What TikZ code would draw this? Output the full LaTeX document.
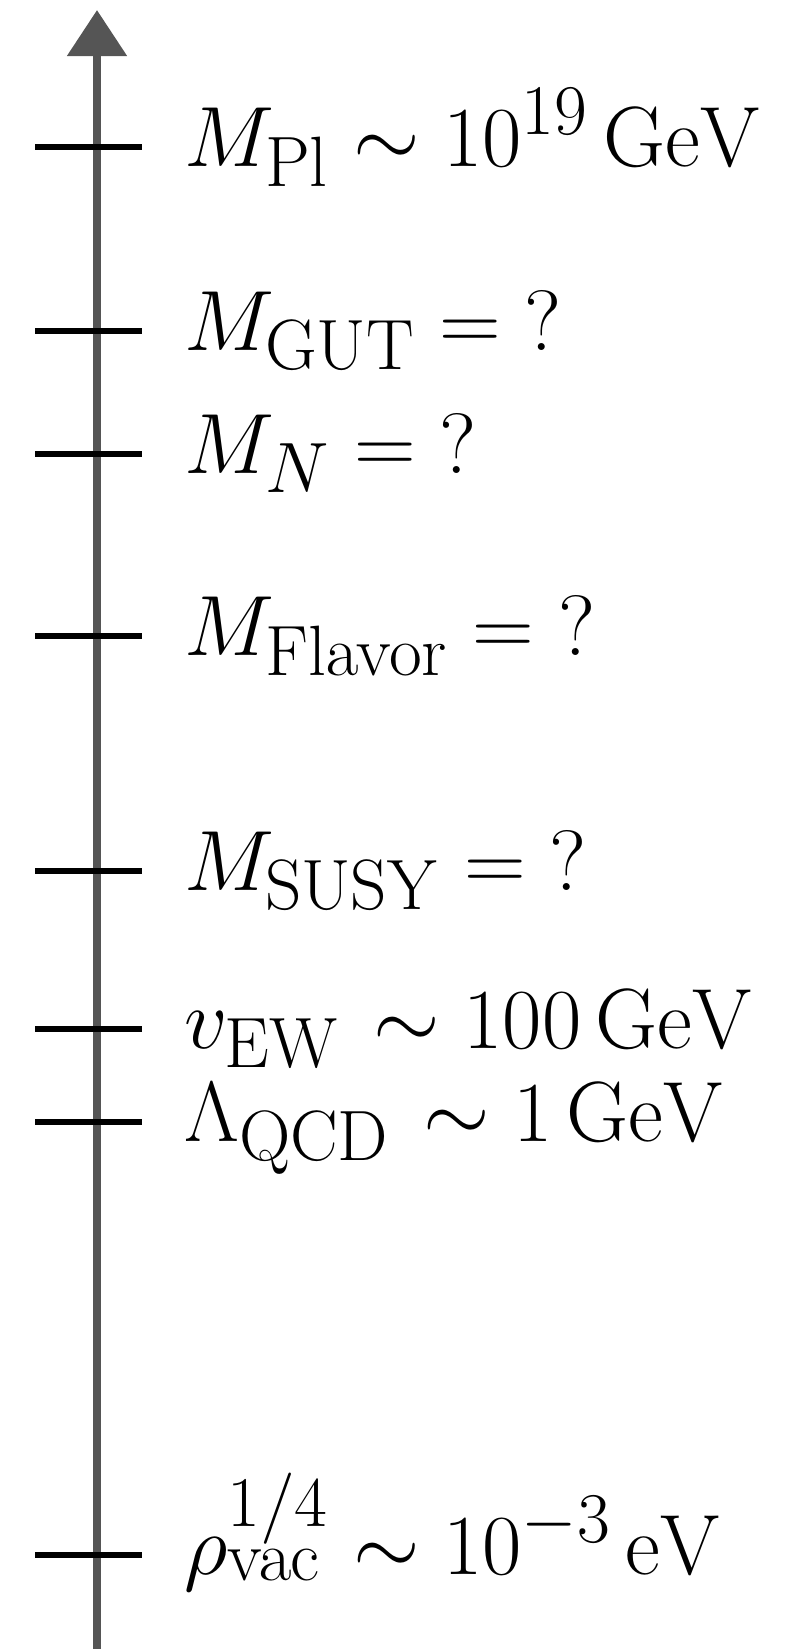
\documentclass[tikz,border=0pt]{standalone}
\usetikzlibrary{arrows.meta}
\definecolor{axisgray}{HTML}{555555}
\newcommand{\biglab}[1]{\scalebox{3.45}{\fontsize{24.88}{30}\selectfont #1}}
\begin{document}
\begin{tikzpicture}[x=1bp,y=-1bp,
  axisline/.style={draw=axisgray,line width=8.5bp,-{Triangle[width=58bp,length=46bp]},fill=axisgray},
  tickline/.style={draw=black,line width=6.5bp},
  lab/.style={anchor=base west,inner sep=0pt}]
\useasboundingbox (0,0) rectangle (792,1649);
\coordinate (bot) at (97,1649);
\coordinate (top) at (97,10);
\draw[axisline] (bot) -- (top);
\foreach \n/\y in {pl/147,gut/331,n/454,fl/636,susy/871,ew/1029,qcd/1122,vac/1555}{
  \coordinate (\n L) at (35,\y);
  \coordinate (\n R) at (142,\y);
  \draw[tickline] (\n L) -- (\n R);
}
\node[lab] (tpl)   at (184,166)  {\biglab{$M_{\mathrm{Pl}}\sim 10^{19}\,\mathrm{GeV}$}};
\node[lab] (tgut)  at (184,350)  {\biglab{$M_{\mathrm{GUT}}={?}$}};
\node[lab] (tn)    at (184,473)  {\biglab{$M_N={?}$}};
\node[lab] (tfl)   at (184,655)  {\biglab{$M_{\mathrm{Flavor}}={?}$}};
\node[lab] (tsusy) at (184,890)  {\biglab{$M_{\mathrm{SUSY}}={?}$}};
\node[lab] (tew)   at (184,1048) {\biglab{$v_{\mathrm{EW}}\mkern2mu\sim 100\,\mathrm{GeV}$}};
\node[lab] (tqcd)  at (184,1141) {\biglab{$\Lambda_{\mathrm{QCD}}\mkern2mu\sim 1\,\mathrm{GeV}$}};
\node[lab] (tvac)  at (184,1574) {\biglab{$\rho_{\mathrm{vac}}^{1/4}\sim 10^{-3}\,\mathrm{eV}$}};
\end{tikzpicture}
\end{document}
